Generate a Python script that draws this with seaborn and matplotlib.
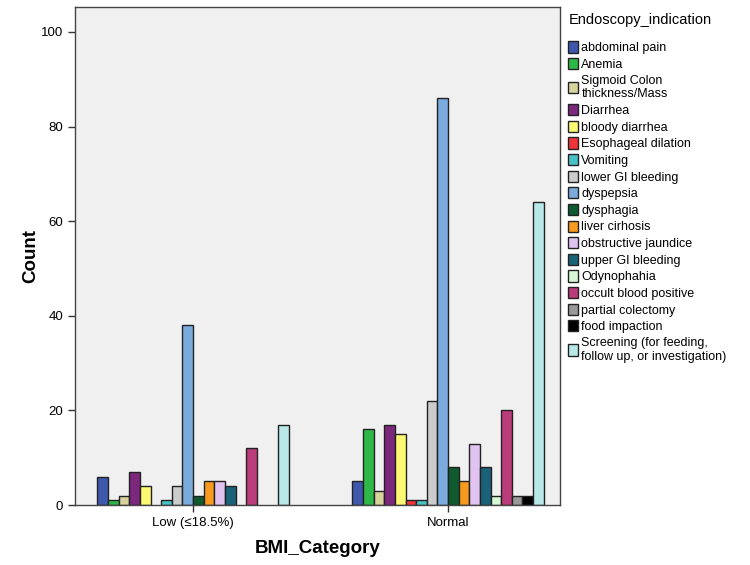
import numpy as np
import pandas as pd
import matplotlib
matplotlib.use('Agg')
import matplotlib.pyplot as plt
import seaborn as sns

groups = ['Low (≤18.5%)', 'Normal']
indications = ['abdominal pain', 'Anemia', 'Sigmoid Colon\nthickness/Mass', 'Diarrhea',
               'bloody diarrhea', 'Esophageal dilation', 'Vomiting', 'lower GI bleeding',
               'dyspepsia', 'dysphagia', 'liver cirhosis', 'obstructive jaundice',
               'upper GI bleeding', 'Odynophahia', 'occult blood positive',
               'partial colectomy', 'food impaction',
               'Screening (for feeding,\nfollow up, or investigation)']
low_counts = [6, 1, 2, 7, 4, 0, 1, 4, 38, 2, 5, 5, 4, 0, 12, 0, 0, 17]
normal_counts = [5, 16, 3, 17, 15, 1, 1, 22, 86, 8, 5, 13, 8, 2, 20, 2, 2, 64]
colors = ['#3E58AC', '#2EB848', '#D8D29C', '#7C287D', '#FBF873', '#EF3338',
          '#48C2C5', '#CCCCCC', '#7BAADD', '#0F5A2E', '#F89A1D', '#E0C3F0',
          '#1A6278', '#D7F8D5', '#BA3C7B', '#999999', '#000000', '#B8E8E8']

df = pd.DataFrame({
    'BMI_Category': [groups[0]] * len(indications) + [groups[1]] * len(indications),
    'Endoscopy_indication': indications * 2,
    'Count': low_counts + normal_counts,
})

sns.set_style('white')
plt.rcParams['font.family'] = ['Liberation Sans', 'DejaVu Sans']
plt.rcParams['text.color'] = 'black'
plt.rcParams['axes.labelcolor'] = 'black'
plt.rcParams['xtick.color'] = 'black'
plt.rcParams['ytick.color'] = 'black'

fig = plt.figure(figsize=(7.5, 5.65), dpi=100)
ax = fig.add_axes([0.1, 0.106, 0.647, 0.882])
ax.set_facecolor('#F0F0F0')

sns.barplot(data=df, x='BMI_Category', y='Count', hue='Endoscopy_indication',
            hue_order=indications, palette=colors, saturation=1, width=0.75, gap=0,
            edgecolor='#222222', linewidth=1, ax=ax, legend=True)

# SPSS leaves empty slots for zero counts
for cont in ax.containers:
    for bar in cont:
        if bar.get_height() == 0:
            bar.set_visible(False)

ax.set_xlim(-0.463, 1.44)
ax.set_ylim(0, 105.3)
ax.set_yticks([0, 20, 40, 60, 80, 100])
ax.tick_params(axis='both', direction='out', length=5, width=1, color='#333333',
               labelsize=9.5, left=True, bottom=True)
for s in ax.spines.values():
    s.set_color('#444444')
    s.set_linewidth(1)

ax.set_xlabel('BMI_Category', fontsize=13.5, fontweight='bold', labelpad=8)
ax.set_ylabel('Count', fontsize=13.5, fontweight='bold', labelpad=1)

leg = ax.legend(title='Endoscopy_indication', loc='upper left',
                bbox_to_anchor=(0.751, 0.985), bbox_transform=fig.transFigure,
                frameon=False, fontsize=9, title_fontsize=10.5,
                handlelength=0.75, handleheight=1.0, handletextpad=0.3,
                labelspacing=0.3, borderaxespad=0, alignment='left')
leg._legend_box.sep = 10
for h in leg.legend_handles:
    h.set_edgecolor('#222222')
    h.set_linewidth(1)

fig.savefig('out.png', dpi=100)
